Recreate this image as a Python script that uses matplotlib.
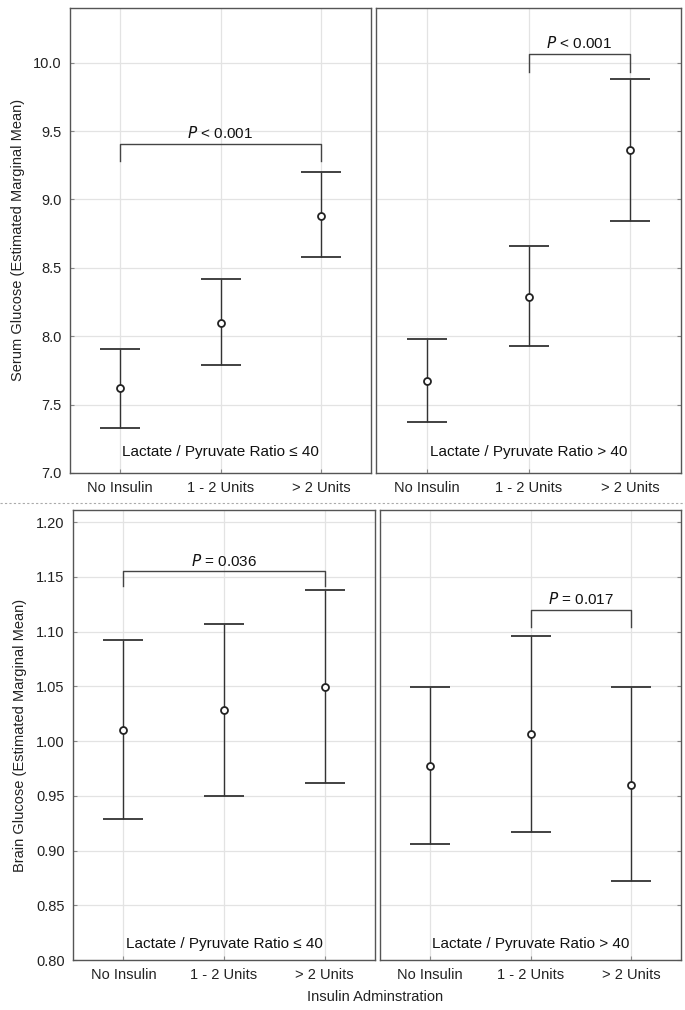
import matplotlib
matplotlib.use("Agg")
import matplotlib.pyplot as plt
from matplotlib.lines import Line2D

plt.rcParams['font.family'] = ['Liberation Sans Narrow', 'Liberation Sans', 'DejaVu Sans']

categories = ["No Insulin", "1 - 2 Units", "> 2 Units"]
groups = ["Lactate / Pyruvate Ratio \u2264 40", "Lactate / Pyruvate Ratio > 40"]

serum_mean_low = [7.62, 8.10, 8.88]
serum_lo_low = [7.33, 7.79, 8.58]
serum_hi_low = [7.91, 8.42, 9.20]
serum_mean_high = [7.67, 8.29, 9.36]
serum_lo_high = [7.37, 7.93, 8.84]
serum_hi_high = [7.98, 8.66, 9.88]

brain_mean_low = [1.010, 1.028, 1.049]
brain_lo_low = [0.929, 0.950, 0.962]
brain_hi_low = [1.092, 1.107, 1.138]
brain_mean_high = [0.977, 1.006, 0.960]
brain_lo_high = [0.906, 0.917, 0.872]
brain_hi_high = [1.049, 1.096, 1.049]

serum_yticks = [7.0, 7.5, 8.0, 8.5, 9.0, 9.5, 10.0]
brain_yticks = [0.80, 0.85, 0.90, 0.95, 1.00, 1.05, 1.10, 1.15, 1.20]

# brackets: (start idx, end idx, bar level, leg bottom, label)
serum_bracket_low = (0, 2, 9.405, 9.28, "0.001", "<")
serum_bracket_high = (1, 2, 10.065, 9.93, "0.001", "<")
brain_bracket_low = (0, 2, 1.155, 1.142, "0.036", "=")
brain_bracket_high = (1, 2, 1.120, 1.104, "0.017", "=")

W, H = 685, 1010
fig = plt.figure(figsize=(W / 100, H / 100), dpi=100)

def px_ax(x0, x1, ytop, ybot):
    return fig.add_axes([x0 / W, 1 - ybot / H, (x1 - x0) / W, (ybot - ytop) / H])

spine_col = "#555555"
line_col = "#333333"

def draw(ax, mean, lo, hi, ylim, yticks, fmt, group, bracket, showy, text_y):
    x = list(range(len(categories)))
    ax.set_xlim(-0.5, 2.5)
    ax.set_ylim(*ylim)
    ax.set_yticks(yticks)
    ax.set_xticks(x)
    ax.set_xticklabels(categories, fontsize=10.5)
    if showy:
        ax.set_yticklabels([fmt.format(v) for v in yticks], fontsize=10.5)
    else:
        ax.set_yticklabels([])
        ax.tick_params(axis="y", left=False, right=True)
    ax.grid(True, color="#e3e3e3", linewidth=0.9)
    ax.set_axisbelow(True)
    for s in ax.spines.values():
        s.set_color(spine_col)
        s.set_linewidth(1.0)
    ax.tick_params(direction="in", length=3, color="#888888", labelcolor="#222222", pad=6)
    err_lo = [m - l for m, l in zip(mean, lo)]
    err_hi = [h - m for m, h in zip(mean, hi)]
    ax.errorbar(x, mean, yerr=[err_lo, err_hi], fmt="o", color=line_col,
                ecolor=line_col, elinewidth=1.0, capsize=14.5, capthick=1.0,
                markersize=5, markerfacecolor="white", markeredgecolor="#222222",
                markeredgewidth=1.3)
    ax.text(1.0, text_y, group, ha="center", va="center", fontsize=11, color="#111111")
    i0, i1, lev, leg, val, op = bracket
    ax.plot([i0, i0, i1, i1], [leg, lev, lev, leg], color="#444444", linewidth=1.0)
    span = ylim[1] - ylim[0]
    ax.text((i0 + i1) / 2, lev + span * 0.006, r"$P$" + f" {op} {val}",
            ha="center", va="bottom", fontsize=11, color="#111111")

ax1 = px_ax(70, 371, 8, 473)
ax2 = px_ax(376, 681, 8, 473)
ax3 = px_ax(73, 375, 510, 960)
ax4 = px_ax(380, 681, 510, 960)

draw(ax1, serum_mean_low, serum_lo_low, serum_hi_low, (7.0, 10.4), serum_yticks, "{:.1f}",
     groups[0], serum_bracket_low, True, 7.15)
draw(ax2, serum_mean_high, serum_lo_high, serum_hi_high, (7.0, 10.4), serum_yticks, "{:.1f}",
     groups[1], serum_bracket_high, False, 7.15)
draw(ax3, brain_mean_low, brain_lo_low, brain_hi_low, (0.80, 1.211), brain_yticks, "{:.2f}",
     groups[0], brain_bracket_low, True, 0.815)
draw(ax4, brain_mean_high, brain_lo_high, brain_hi_high, (0.80, 1.211), brain_yticks, "{:.2f}",
     groups[1], brain_bracket_high, False, 0.815)

fig.text(18 / W, 1 - 240 / H, "Serum Glucose (Estimated Marginal Mean)", rotation=90,
         ha="center", va="center", fontsize=10.5, color="#222222")
fig.text(20 / W, 1 - 735 / H, "Brain Glucose (Estimated Marginal Mean)", rotation=90,
         ha="center", va="center", fontsize=10.5, color="#222222")
fig.text(375 / W, 1 - 997 / H, "Insulin Adminstration", ha="center", va="center",
         fontsize=10.5, color="#222222")

fig.add_artist(Line2D([0, 1], [1 - 503 / H, 1 - 503 / H], transform=fig.transFigure,
                      color="#aaaaaa", linewidth=0.8, linestyle=(0, (2, 2))))

fig.savefig("out.png", dpi=100)
